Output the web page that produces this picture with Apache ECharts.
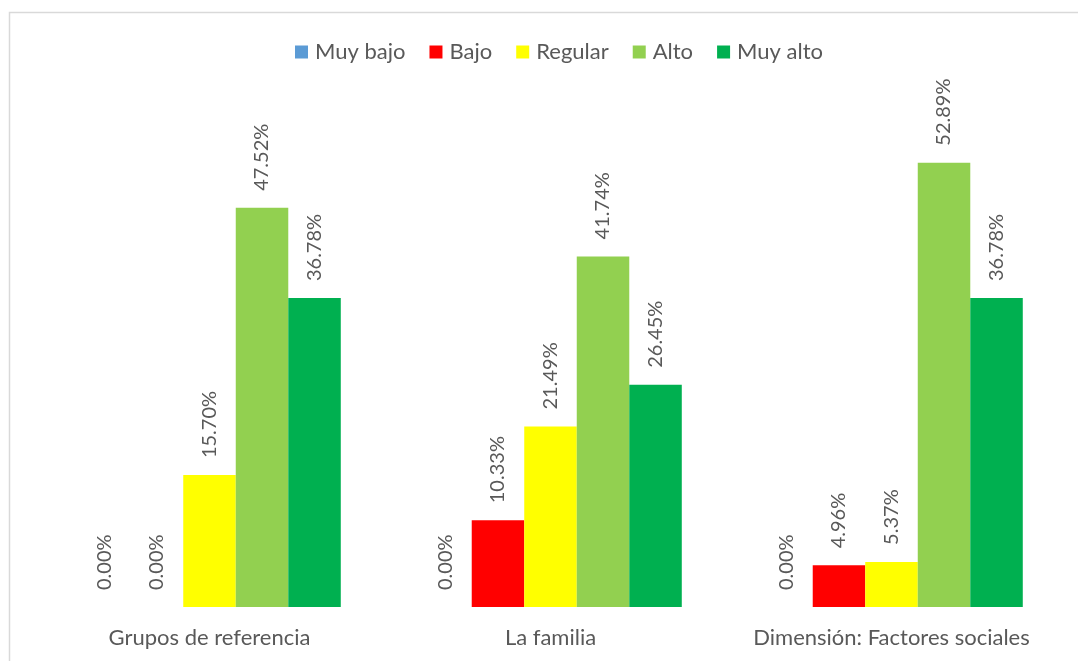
<!DOCTYPE html>
<html>
<head>
<meta charset="utf-8">
<script src="https://cdn.jsdelivr.net/npm/echarts@6/dist/echarts.min.js"></script>
<style>
  html, body { margin: 0; padding: 0; background: #fff; }
  #chart { width: 1078px; height: 661px; }
</style>
</head>
<body>
<div id="chart"></div>
<script>
const categories = ['Grupos de referencia', 'La familia', 'Dimensión: Factores sociales'];

const seriesNames = ['Muy bajo', 'Bajo', 'Regular', 'Alto', 'Muy alto'];
const muyBajo = [0, 0, 0];
const bajo = [0, 10.33, 4.96];
const regular = [15.70, 21.49, 5.37];
const alto = [47.52, 41.74, 52.89];
const muyAlto = [36.78, 26.45, 36.78];

const seriesColors = ['#5b9bd5', '#ff0000', '#ffff00', '#92d050', '#00b050'];
const textColor = '#595959';
const fontFamily = 'Lato, "Open Sans", sans-serif';

const chart = echarts.init(document.getElementById('chart'));

const buildSeries = (name, data, index) => ({
  name,
  type: 'bar',
  data,
  barGap: '0%',
  barCategoryGap: '23%',
  itemStyle: { color: seriesColors[index] },
  label: {
    show: true,
    position: 'top',
    rotate: 90,
    align: 'left',
    verticalAlign: 'middle',
    distance: 17,
    color: textColor,
    fontFamily,
    fontSize: 20,
    formatter: (p) => `${p.value.toFixed(2)}%`,
  },
});

const option = {
  animation: false,
  color: seriesColors,
  textStyle: { fontFamily },
  // light frame round the chart area, as in the original
  graphic: [{
    type: 'rect',
    shape: { x: 9.5, y: 12.5, width: 1200, height: 800 },
    style: { fill: 'none', stroke: '#d9d9d9', lineWidth: 1.5 },
    silent: true,
  }],
  legend: {
    top: 36,
    left: 290,
    itemWidth: 13,
    itemHeight: 13,
    itemGap: 24,
    icon: 'rect',
    textStyle: { color: textColor, fontSize: 22, fontFamily, padding: [0, 0, 0, 2] },
    data: seriesNames,
  },
  grid: {
    left: 39,
    right: 16,
    top: 103,
    bottom: 54,
    containLabel: false,
  },
  xAxis: {
    type: 'category',
    data: categories,
    axisLine: { show: false },
    axisTick: { show: false },
    axisLabel: {
      interval: 0,
      color: textColor,
      fontSize: 22,
      fontFamily,
      margin: 20,
    },
  },
  yAxis: {
    type: 'value',
    min: 0,
    max: 60,
    show: false,
    splitLine: { show: false },
  },
  series: [muyBajo, bajo, regular, alto, muyAlto].map((data, i) => buildSeries(seriesNames[i], data, i)),
};

chart.setOption(option);
</script>
</body>
</html>
